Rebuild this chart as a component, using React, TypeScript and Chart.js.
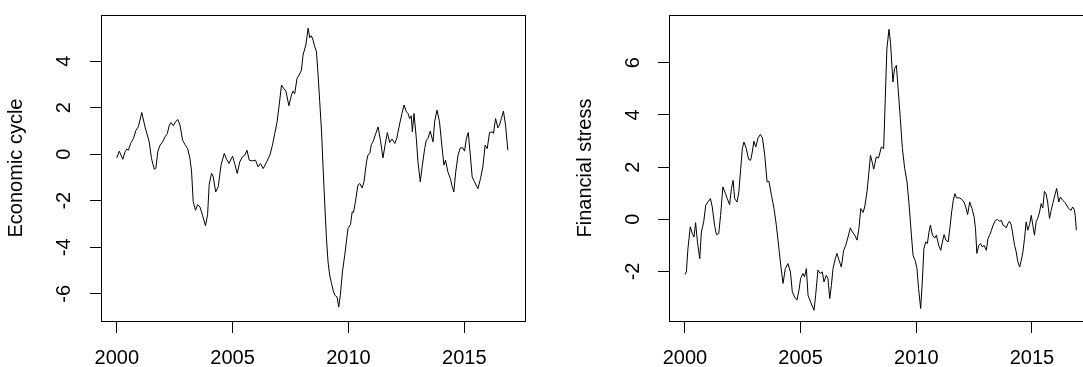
import React, { useEffect, useRef } from "react";
import { Chart, registerables } from "chart.js";

Chart.register(...registerables);

// Economic cycle (left panel): time (decimal year) and value
const cycleDates = [
  2000.00, 2000.11, 2000.26, 2000.36, 2000.43, 2000.50, 2000.60, 2000.72, 2000.83, 2000.93,
  2001.08, 2001.22, 2001.40, 2001.50, 2001.62, 2001.69, 2001.77, 2001.87, 2001.98, 2002.08,
  2002.18, 2002.27, 2002.34, 2002.44, 2002.54, 2002.63, 2002.73, 2002.84, 2002.94, 2003.06,
  2003.16, 2003.23, 2003.30, 2003.40, 2003.49, 2003.59, 2003.70, 2003.83, 2003.92, 2003.99,
  2004.09, 2004.16, 2004.27, 2004.38, 2004.50, 2004.64, 2004.74, 2004.84, 2005.00, 2005.10,
  2005.20, 2005.31, 2005.43, 2005.53, 2005.62, 2005.72, 2005.85, 2005.99, 2006.10, 2006.20,
  2006.32, 2006.47, 2006.61, 2006.72, 2006.82, 2006.92, 2007.01, 2007.11, 2007.21, 2007.30,
  2007.43, 2007.54, 2007.61, 2007.68, 2007.78, 2007.87, 2007.97, 2008.04, 2008.16, 2008.26,
  2008.33, 2008.40, 2008.47, 2008.55, 2008.62, 2008.69, 2008.76, 2008.84, 2008.90, 2008.98,
  2009.05, 2009.12, 2009.19, 2009.27, 2009.34, 2009.41, 2009.51, 2009.58, 2009.65, 2009.74,
  2009.84, 2009.91, 2009.98, 2010.09, 2010.16, 2010.22, 2010.30, 2010.41, 2010.49, 2010.59,
  2010.67, 2010.78, 2010.84, 2010.92, 2010.99, 2011.06, 2011.18, 2011.28, 2011.38, 2011.49,
  2011.58, 2011.68, 2011.78, 2011.88, 2012.00, 2012.09, 2012.21, 2012.31, 2012.40, 2012.50,
  2012.57, 2012.64, 2012.71, 2012.76, 2012.83, 2012.93, 2013.00, 2013.10, 2013.19, 2013.29,
  2013.36, 2013.43, 2013.53, 2013.65, 2013.72, 2013.82, 2013.93, 2014.03, 2014.12, 2014.19,
  2014.29, 2014.40, 2014.48, 2014.55, 2014.63, 2014.73, 2014.83, 2014.94, 2015.01, 2015.09,
  2015.17, 2015.26, 2015.34, 2015.44, 2015.59, 2015.70, 2015.80, 2015.90, 2015.99, 2016.09,
  2016.21, 2016.26, 2016.35, 2016.45, 2016.52, 2016.60, 2016.69, 2016.78, 2016.88,
];
const cycleValues = [
  -0.16, 0.13, -0.22, 0.10, 0.22, 0.17, 0.46, 0.67, 1.03, 1.17,
  1.79, 1.17, 0.53, -0.19, -0.65, -0.60, 0.10, 0.39, 0.53, 0.74,
  0.88, 1.25, 1.36, 1.22, 1.39, 1.49, 1.25, 0.60, 0.42, 0.24,
  -0.19, -0.76, -2.05, -2.41, -2.17, -2.27, -2.62, -3.08, -2.60, -1.30,
  -0.83, -0.95, -1.62, -1.40, -0.47, 0.03, -0.22, -0.40, -0.09, -0.44,
  -0.83, -0.33, -0.11, -0.04, 0.17, -0.26, -0.29, -0.26, -0.55, -0.40,
  -0.62, -0.33, -0.04, 0.39, 0.89, 1.39, 2.11, 2.97, 2.82, 2.71,
  2.08, 2.54, 2.71, 2.60, 3.25, 3.40, 3.61, 4.26, 4.69, 5.41,
  5.00, 5.09, 4.90, 4.61, 4.40, 3.40, 2.25, 0.96, -0.47, -2.19,
  -3.63, -4.63, -5.20, -5.56, -5.85, -6.06, -6.14, -6.57, -6.06, -5.06,
  -4.34, -3.77, -3.20, -3.02, -2.48, -2.50, -2.05, -1.33, -1.26, -1.45,
  -1.19, -0.33, -0.04, 0.03, 0.42, 0.53, 0.89, 1.17, 0.60, -0.16,
  0.39, 0.93, 0.50, 0.65, 0.46, 0.70, 1.30, 1.75, 2.11, 1.82,
  1.75, 1.53, 1.65, 0.96, 1.75, 0.67, -0.33, -1.19, -0.47, 0.24,
  0.60, 0.67, 0.99, 0.53, 1.39, 1.89, 1.39, 0.39, -0.47, -0.26,
  -0.76, -1.05, -1.40, -1.62, -0.76, -0.04, 0.27, 0.27, 0.13, 0.67,
  0.93, -0.04, -0.98, -1.19, -1.48, -1.05, -0.55, 0.39, 0.24, 0.93,
  0.96, 0.89, 1.53, 1.13, 1.25, 1.53, 1.85, 1.25, 0.17,
];

// Financial stress (right panel)
const stressDates = [
  2000.00, 2000.06, 2000.13, 2000.23, 2000.32, 2000.39, 2000.46, 2000.54, 2000.64, 2000.71,
  2000.81, 2000.90, 2000.99, 2001.10, 2001.18, 2001.28, 2001.36, 2001.46, 2001.54, 2001.64,
  2001.75, 2001.83, 2001.93, 2002.01, 2002.08, 2002.15, 2002.25, 2002.33, 2002.41, 2002.48,
  2002.55, 2002.65, 2002.75, 2002.84, 2002.91, 2002.98, 2003.06, 2003.16, 2003.26, 2003.35,
  2003.45, 2003.55, 2003.63, 2003.74, 2003.85, 2003.95, 2004.06, 2004.14, 2004.24, 2004.34,
  2004.45, 2004.56, 2004.64, 2004.74, 2004.84, 2004.93, 2005.00, 2005.10, 2005.17, 2005.25,
  2005.32, 2005.43, 2005.58, 2005.65, 2005.75, 2005.85, 2005.94, 2006.01, 2006.11, 2006.18,
  2006.26, 2006.33, 2006.40, 2006.50, 2006.57, 2006.66, 2006.76, 2006.86, 2006.95, 2007.05,
  2007.15, 2007.24, 2007.34, 2007.44, 2007.52, 2007.60, 2007.70, 2007.77, 2007.87, 2007.94,
  2008.02, 2008.09, 2008.16, 2008.27, 2008.37, 2008.49, 2008.59, 2008.66, 2008.73, 2008.82,
  2008.89, 2008.99, 2009.06, 2009.14, 2009.21, 2009.31, 2009.40, 2009.50, 2009.60, 2009.68,
  2009.79, 2009.86, 2009.96, 2010.03, 2010.10, 2010.19, 2010.26, 2010.33, 2010.41, 2010.48,
  2010.55, 2010.61, 2010.70, 2010.80, 2010.87, 2010.97, 2011.06, 2011.13, 2011.20, 2011.28,
  2011.38, 2011.45, 2011.53, 2011.60, 2011.67, 2011.74, 2011.86, 2011.96, 2012.06, 2012.14,
  2012.22, 2012.31, 2012.41, 2012.50, 2012.56, 2012.62, 2012.70, 2012.78, 2012.85, 2012.93,
  2013.03, 2013.10, 2013.17, 2013.25, 2013.32, 2013.42, 2013.51, 2013.61, 2013.68, 2013.75,
  2013.82, 2013.89, 2013.96, 2014.03, 2014.11, 2014.18, 2014.25, 2014.32, 2014.39, 2014.47,
  2014.54, 2014.61, 2014.68, 2014.75, 2014.82, 2014.90, 2014.97, 2015.04, 2015.11, 2015.18,
  2015.25, 2015.33, 2015.40, 2015.47, 2015.54, 2015.61, 2015.68, 2015.76, 2015.83, 2015.90,
  2015.97, 2016.07, 2016.16, 2016.23, 2016.33, 2016.43, 2016.52, 2016.59, 2016.69, 2016.76,
  2016.83, 2016.87, 2016.92,
];
const stressValues = [
  -2.12, -2.02, -1.12, -0.29, -0.55, -0.68, -0.13, -0.87, -1.51, -0.49,
  -0.10, 0.54, 0.66, 0.79, 0.47, -0.23, -0.59, -0.55, 0.15, 1.24,
  0.98, 0.79, 0.56, 1.18, 1.49, 0.79, 0.66, 1.05, 1.94, 2.71,
  2.96, 2.71, 2.30, 2.26, 2.58, 2.99, 2.77, 3.12, 3.25, 3.12,
  2.45, 1.43, 1.46, 0.92, 0.41, -0.23, -1.10, -1.76, -2.46, -1.89,
  -1.70, -2.02, -2.78, -2.98, -3.10, -2.72, -2.27, -2.08, -2.21, -1.89,
  -2.91, -3.17, -3.49, -2.91, -1.95, -2.08, -2.02, -2.40, -2.15, -2.27,
  -3.04, -2.53, -1.89, -1.51, -1.31, -1.57, -1.83, -1.19, -1.00, -0.68,
  -0.33, -0.49, -0.61, -0.80, -0.36, 0.41, 0.26, 0.47, 1.05, 1.69,
  2.45, 2.20, 1.92, 2.39, 2.35, 2.77, 2.71, 4.62, 6.54, 7.28,
  6.73, 5.26, 5.77, 5.90, 5.07, 3.86, 2.71, 1.94, 1.43, 0.66,
  -0.61, -1.38, -1.61, -1.89, -2.66, -3.42, -2.40, -1.12, -0.87, -0.93,
  -0.49, -0.23, -0.61, -0.72, -0.61, -1.00, -1.19, -0.87, -0.59, -0.80,
  -0.87, -0.36, 0.28, 0.73, 0.98, 0.82, 0.82, 0.77, 0.66, 0.47,
  0.18, 0.66, 0.41, 0.09, -0.36, -1.31, -1.00, -0.93, -1.06, -1.00,
  -1.19, -0.74, -0.61, -0.42, -0.23, -0.04, -0.01, -0.08, -0.04, -0.23,
  -0.26, -0.33, -0.17, -0.08, -0.23, -0.61, -1.00, -1.25, -1.63, -1.83,
  -1.57, -1.25, -0.74, -0.10, -0.42, -0.20, 0.15, -0.23, -0.61, -0.10,
  0.03, 0.28, 0.60, 0.43, 1.07, 0.98, 0.66, 0.03, 0.34, 0.60,
  0.85, 1.18, 0.66, 0.85, 0.73, 0.64, 0.51, 0.41, 0.34, 0.47,
  0.38, 0.15, -0.42,
];

const xTickStep = 5;
const yTickStep = 2;
const cycleTitle = "Economic cycle";
const stressTitle = "Financial stress";

const FONT = "'Liberation Sans', Arial, Helvetica, sans-serif";

const boxPlugin = {
  id: "rbox",
  afterDraw(chart: any) {
    const { ctx, chartArea: a } = chart;
    ctx.save();
    ctx.strokeStyle = "#000";
    ctx.lineWidth = 1;
    ctx.strokeRect(
      Math.round(a.left) + 0.5,
      Math.round(a.top) + 0.5,
      Math.round(a.right - a.left),
      Math.round(a.bottom - a.top)
    );
    ctx.restore();
  },
};

type PanelSpec = {
  dates: number[];
  values: number[];
  title: string;
  xMin: number;
  xMax: number;
  yMin: number;
  yMax: number;
  yAxisWidth: number;
  rightPad: number;
  yLabelPad: number;
  titlePad: number;
};

function makeConfig(p: PanelSpec): any {
  const data = p.dates.map((d, i) => ({ x: d, y: p.values[i] }));
  return {
    type: "line",
    data: {
      datasets: [
        {
          data,
          borderColor: "#000",
          borderWidth: 1,
          pointRadius: 0,
          tension: 0,
          fill: false,
        },
      ],
    },
    plugins: [boxPlugin],
    options: {
      animation: false,
      responsive: false,
      devicePixelRatio: 1,
      layout: { padding: { top: 15, right: p.rightPad, left: 0, bottom: 0 } },
      plugins: { legend: { display: false }, tooltip: { enabled: false } },
      scales: {
        x: {
          type: "linear",
          position: "bottom",
          min: p.xMin,
          max: p.xMax,
          afterFit: (s: any) => {
            s.height = 46;
            s.paddingLeft = 0;
            s.paddingRight = 0;
          },
          border: { display: false },
          grid: {
            drawOnChartArea: false,
            drawTicks: true,
            tickLength: 12,
            tickColor: "#000",
            lineWidth: 1,
          },
          ticks: {
            stepSize: xTickStep,
            includeBounds: false,
            autoSkip: false,
            maxRotation: 0,
            minRotation: 0,
            padding: 13,
            color: "#000",
            font: { family: FONT, size: 20 },
            callback: (v: any) => String(v),
          },
        },
        y: {
          type: "linear",
          position: "left",
          min: p.yMin,
          max: p.yMax,
          afterFit: (s: any) => {
            s.width = p.yAxisWidth;
            s.paddingTop = 0;
            s.paddingBottom = 0;
          },
          border: { display: false },
          grid: {
            drawOnChartArea: false,
            drawTicks: true,
            tickLength: 11,
            tickColor: "#000",
            lineWidth: 1,
          },
          title: {
            display: true,
            text: p.title,
            color: "#000",
            font: { family: FONT, size: 20 },
            padding: { top: p.titlePad, bottom: 0 },
          },
          ticks: {
            stepSize: yTickStep,
            includeBounds: false,
            autoSkip: false,
            minRotation: 90,
            maxRotation: 90,
            crossAlign: "center",
            padding: p.yLabelPad,
            color: "#000",
            font: { family: FONT, size: 20 },
            callback: (v: any) => String(v),
          },
        },
      },
    },
  };
}

function Panel(props: { spec: PanelSpec; left: number; width: number }) {
  const ref = useRef<HTMLCanvasElement | null>(null);
  useEffect(() => {
    if (!ref.current) return;
    const chart = new Chart(ref.current, makeConfig(props.spec));
    return () => chart.destroy();
  }, []);
  return (
    <canvas
      ref={ref}
      width={props.width}
      height={367}
      style={{
        position: "absolute",
        left: props.left,
        top: 0,
        width: props.width,
        height: 367,
      }}
    />
  );
}

const leftSpec: PanelSpec = {
  dates: cycleDates,
  values: cycleValues,
  title: cycleTitle,
  xMin: 1999.32,
  xMax: 2017.62,
  yMin: -7.17,
  yMax: 5.98,
  yAxisWidth: 101,
  rightPad: 20,
  yLabelPad: 16.6,
  titlePad: 4.8,
};

const rightSpec: PanelSpec = {
  dates: stressDates,
  values: stressValues,
  title: stressTitle,
  xMin: 1999.31,
  xMax: 2017.64,
  yMin: -3.9,
  yMax: 7.83,
  yAxisWidth: 124,
  rightPad: 12,
  yLabelPad: 15.4,
  titlePad: 28.4,
};

export default function App() {
  return (
    <div
      style={{
        position: "fixed",
        left: 0,
        top: 0,
        width: 1083,
        height: 367,
        overflow: "hidden",
        background: "#fff",
      }}
    >
      <Panel spec={leftSpec} left={0} width={545} />
      <Panel spec={rightSpec} left={545} width={560} />
    </div>
  );
}
